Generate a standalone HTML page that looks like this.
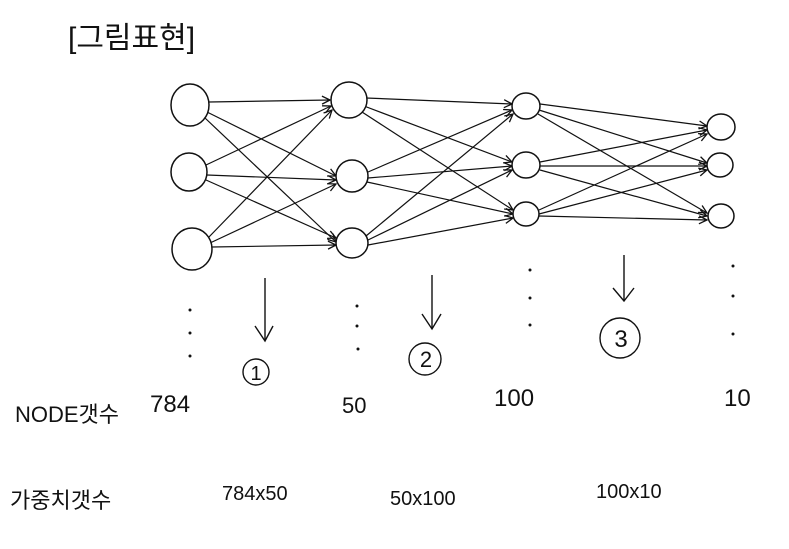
<!DOCTYPE html>
<html><head><meta charset="utf-8"><style>
html,body{margin:0;padding:0;background:#fff;}
svg{display:block}
text{font-family:"Liberation Sans","Noto Sans CJK KR",sans-serif;fill:#111;}
</style></head><body>
<svg width="789" height="549" viewBox="0 0 789 549" xmlns="http://www.w3.org/2000/svg">
<defs><marker id="a" markerWidth="10" markerHeight="10" refX="9" refY="5" orient="auto" markerUnits="userSpaceOnUse"><path d="M1,1 L9,5 L1,9" fill="none" stroke="#111" stroke-width="1.3"/></marker></defs>
<g stroke="#111" stroke-width="1.2" fill="none">
<!-- layer1 -> layer2 -->
<line x1="209" y1="102" x2="330" y2="100" marker-end="url(#a)"/>
<line x1="207" y1="112" x2="336" y2="176" marker-end="url(#a)"/>
<line x1="205" y1="118" x2="336" y2="242" marker-end="url(#a)"/>
<line x1="206" y1="165" x2="331" y2="106" marker-end="url(#a)"/>
<line x1="207" y1="175" x2="336" y2="180" marker-end="url(#a)"/>
<line x1="206" y1="180" x2="336" y2="238" marker-end="url(#a)"/>
<line x1="208" y1="238" x2="332" y2="110" marker-end="url(#a)"/>
<line x1="210" y1="243" x2="336" y2="184" marker-end="url(#a)"/>
<line x1="212" y1="247" x2="336" y2="245" marker-end="url(#a)"/>
<!-- layer2 -> layer3 -->
<line x1="366" y1="98" x2="512" y2="104" marker-end="url(#a)"/>
<line x1="364" y1="106" x2="512" y2="162" marker-end="url(#a)"/>
<line x1="362" y1="112" x2="513" y2="210" marker-end="url(#a)"/>
<line x1="368" y1="172" x2="512" y2="110" marker-end="url(#a)"/>
<line x1="368" y1="178" x2="512" y2="166" marker-end="url(#a)"/>
<line x1="367" y1="182" x2="513" y2="214" marker-end="url(#a)"/>
<line x1="366" y1="236" x2="513" y2="114" marker-end="url(#a)"/>
<line x1="368" y1="240" x2="512" y2="170" marker-end="url(#a)"/>
<line x1="368" y1="245" x2="513" y2="218" marker-end="url(#a)"/>
<!-- layer3 -> layer4 -->
<line x1="540" y1="104" x2="707" y2="126" marker-end="url(#a)"/>
<line x1="539" y1="110" x2="707" y2="163" marker-end="url(#a)"/>
<line x1="538" y1="114" x2="707" y2="213" marker-end="url(#a)"/>
<line x1="540" y1="162" x2="707" y2="130" marker-end="url(#a)"/>
<line x1="540" y1="166" x2="707" y2="166" marker-end="url(#a)"/>
<line x1="540" y1="170" x2="707" y2="216" marker-end="url(#a)"/>
<line x1="539" y1="210" x2="707" y2="134" marker-end="url(#a)"/>
<line x1="539" y1="214" x2="707" y2="170" marker-end="url(#a)"/>
<line x1="539" y1="216" x2="707" y2="220" marker-end="url(#a)"/>
</g>
<g stroke="#111" stroke-width="1.5" fill="#fff">
<ellipse cx="190" cy="105" rx="19" ry="21"/>
<ellipse cx="189" cy="172" rx="18" ry="19"/>
<ellipse cx="192" cy="249" rx="20" ry="21"/>
<ellipse cx="349" cy="100" rx="18" ry="18"/>
<ellipse cx="352" cy="176" rx="16" ry="16"/>
<ellipse cx="352" cy="243" rx="16" ry="15"/>
<ellipse cx="526" cy="106" rx="14" ry="13"/>
<ellipse cx="526" cy="165" rx="14" ry="13"/>
<ellipse cx="526" cy="214" rx="13" ry="12"/>
<ellipse cx="721" cy="127" rx="14" ry="13"/>
<ellipse cx="720" cy="165" rx="13" ry="12"/>
<ellipse cx="721" cy="216" rx="13" ry="12"/>
</g>
<g fill="#111">
<circle cx="190" cy="310" r="1.5"/><circle cx="190" cy="333" r="1.5"/><circle cx="190" cy="356" r="1.5"/>
<circle cx="357" cy="306" r="1.5"/><circle cx="357" cy="326" r="1.5"/><circle cx="358" cy="349" r="1.5"/>
<circle cx="530" cy="270" r="1.5"/><circle cx="530" cy="298" r="1.5"/><circle cx="530" cy="325" r="1.5"/>
<circle cx="733" cy="266" r="1.5"/><circle cx="733" cy="296" r="1.5"/><circle cx="733" cy="334" r="1.5"/>
</g>
<g stroke="#111" stroke-width="1.4" fill="none">
<line x1="265" y1="278" x2="265" y2="340"/><path d="M255,326 L265,341 L273,326"/>
<line x1="432" y1="275" x2="432" y2="328"/><path d="M422,314 L432,329 L441,314"/>
<line x1="624" y1="255" x2="624" y2="300"/><path d="M613,288 L624,301 L634,288"/>
<circle cx="256" cy="372" r="13"/>
<circle cx="425" cy="359" r="16"/>
<circle cx="620" cy="338" r="20"/>
</g>
<text x="256" y="380" font-size="20" text-anchor="middle">1</text>
<text x="426" y="367" font-size="22" text-anchor="middle">2</text>
<text x="621" y="347" font-size="24" text-anchor="middle">3</text>
<text x="68" y="48" font-size="30">[그림표현]</text>
<text x="15" y="422" font-size="22">NODE갯수</text>
<text x="150" y="412" font-size="24">784</text>
<text x="342" y="413" font-size="22">50</text>
<text x="494" y="406" font-size="24">100</text>
<text x="724" y="406" font-size="24">10</text>
<text x="10" y="508" font-size="22">가중치갯수</text>
<text x="222" y="500" font-size="20">784x50</text>
<text x="390" y="505" font-size="20">50x100</text>
<text x="596" y="498" font-size="20">100x10</text>
</svg>
</body></html>
